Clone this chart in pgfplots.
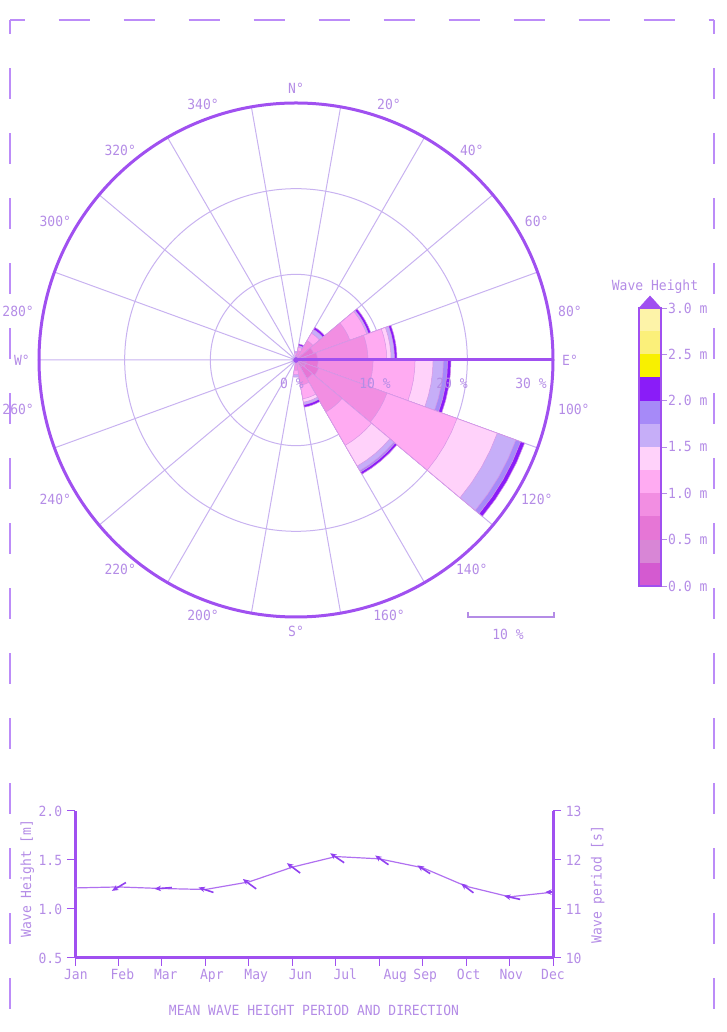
\documentclass[border=0pt]{standalone}
\usepackage{pgfplots}
\pgfplotsset{compat=1.18}
\usepgfplotslibrary{polar}
\usetikzlibrary{arrows.meta}
\usepackage{fontspec}
\setmainfont{DejaVu Sans Mono}[FakeStretch=0.93]
\definecolor{axcol}{HTML}{A050F0}
\definecolor{gridcol}{HTML}{C8B2F0}
\definecolor{textcol}{HTML}{B48CE6}
\definecolor{edgecol}{HTML}{D596E6}
\definecolor{linecol}{HTML}{B070F0}
\definecolor{arrcol}{HTML}{9040F0}
\definecolor{bordcol}{HTML}{BC8CF8}
\definecolor{c0}{HTML}{D45AD0}
\definecolor{c1}{HTML}{D886D6}
\definecolor{c2}{HTML}{E676D6}
\definecolor{c3}{HTML}{F28EE2}
\definecolor{c4}{HTML}{FFABF2}
\definecolor{c5}{HTML}{FFD2FA}
\definecolor{c6}{HTML}{C6AEF8}
\definecolor{c7}{HTML}{A68AF8}
\definecolor{c8}{HTML}{8A1CF8}
\definecolor{c9}{HTML}{F8F000}
\definecolor{c10}{HTML}{FBF07A}
\definecolor{c11}{HTML}{FDF3A8}
% one petal: bearing (deg, clockwise from N), cumulative radius (%), colour
\newcommand{\petal}[3]{%
  \pgfmathsetmacro{\pa}{100-#1}%
  \pgfmathsetmacro{\pb}{95-#1}%
  \pgfmathsetmacro{\pc}{90-#1}%
  \pgfmathsetmacro{\pd}{85-#1}%
  \pgfmathsetmacro{\pe}{80-#1}%
  \edef\temp{\noexpand\addplot[fill=#3, draw=edgecol, line width=0.5pt] coordinates {(0,0) (\pa,#2) (\pb,#2) (\pc,#2) (\pd,#2) (\pe,#2)} -- cycle;}%
  \temp}
\newcommand{\cell}[3]{\addplot[fill=#3, draw=none] coordinates {(0,#1) (1,#1) (1,#2) (0,#2)} -- cycle;}
\begin{document}
\fontsize{14}{16}\selectfont
\begin{tikzpicture}
\path[use as bounding box] (0,0) rectangle (726pt,1032pt);
% dashed frame
\begin{scope}[bordcol, line width=2pt, dash pattern=on 31pt off 34pt, dash phase=16.5pt]
\draw (10pt,1012pt) -- (714pt,1012pt);
\draw (10pt,1012pt) -- (10pt,0pt);
\draw (714pt,1012pt) -- (714pt,0pt);
\end{scope}
% ---------------- wave rose
\begin{polaraxis}[
  name=rose,
  at={(296pt,672pt)}, anchor=center,
  scale only axis, width=514pt, height=514pt,
  xmin=0, xmax=360, ymin=0, ymax=30,
  xtick={0,20,...,340}, ytick={10,20},
  xticklabel={\relax}, yticklabel={\relax},
  major tick length=0pt,
  grid=major,
  major grid style={draw=gridcol, line width=1pt},
  axis line style={draw=axcol, line width=3pt},
  clip=false,
]
% sector 0
\petal{0}{1.0}{c6}\petal{0}{0.8}{c4}\petal{0}{0.5}{c3}
% sector 20
\petal{20}{1.9}{c8}\petal{20}{1.7}{c6}\petal{20}{1.5}{c4}\petal{20}{1.1}{c3}
% sector 40
\petal{40}{4.4}{c8}\petal{40}{4.1}{c6}\petal{40}{3.6}{c4}\petal{40}{2.6}{c3}
% sector 60
\petal{60}{9.3}{c8}\petal{60}{9.0}{c6}\petal{60}{8.8}{c4}\petal{60}{6.7}{c3}\petal{60}{2.2}{c2}
% sector 80
\petal{80}{11.8}{c8}\petal{80}{11.5}{c6}\petal{80}{11.1}{c5}\petal{80}{10.6}{c4}\petal{80}{8.4}{c3}\petal{80}{2.5}{c2}\petal{80}{1.2}{c1}
% sector 100
\petal{100}{18.1}{c8}\petal{100}{17.7}{c7}\petal{100}{17.2}{c6}\petal{100}{16.0}{c5}\petal{100}{13.9}{c4}\petal{100}{9.0}{c3}\petal{100}{2.6}{c2}\petal{100}{1.2}{c1}\petal{100}{0.4}{c0}
% sector 120
\petal{120}{28.4}{c8}\petal{120}{27.9}{c7}\petal{120}{27.3}{c6}\petal{120}{25.0}{c5}\petal{120}{20.0}{c4}\petal{120}{11.3}{c3}\petal{120}{2.8}{c2}\petal{120}{1.2}{c1}\petal{120}{0.4}{c0}
% sector 140
\petal{140}{15.4}{c8}\petal{140}{15.1}{c7}\petal{140}{14.9}{c6}\petal{140}{14.3}{c5}\petal{140}{11.5}{c4}\petal{140}{7.0}{c3}\petal{140}{2.5}{c2}\petal{140}{1.0}{c1}
% sector 160
\petal{160}{5.6}{c8}\petal{160}{5.3}{c6}\petal{160}{5.0}{c5}\petal{160}{4.6}{c4}\petal{160}{3.0}{c3}
% sector 180
\petal{180}{2.0}{c6}\petal{180}{1.7}{c4}\petal{180}{1.2}{c3}
% bold east line and centre
\addplot[axcol, line width=3pt] coordinates {(0,0) (0,30)};
\addplot[only marks, mark=*, mark size=2.5pt, axcol] coordinates {(0,0)};
\end{polaraxis}
% direction labels
\begin{scope}[shift={(296pt,672pt)}]
\foreach \b/\t in {0/N°,20/20°,40/40°,60/60°,80/80°,90/E°,100/100°,120/120°,140/140°,160/160°,180/S°,200/200°,220/220°,240/240°,260/260°,270/W°,280/280°,300/300°,320/320°,340/340°}{
  \pgfmathsetmacro{\th}{90-\b}
  \pgfmathtruncatemacro{\an}{mod(630-\b,360)}
  \node[text=textcol, anchor=\an, inner sep=1pt] at (\th:265pt) {\t};
}
\end{scope}
\node[text=textcol] at (292pt,649pt) {0 \%};
\node[text=textcol] at (375pt,649pt) {10 \%};
\node[text=textcol] at (452pt,649pt) {20 \%};
\node[text=textcol] at (531pt,649pt) {30 \%};
% scale bar
\draw[color=textcol, line width=1.5pt] (468pt,420pt) -- (468pt,415pt) -- (554pt,415pt) -- (554pt,420pt);
\node[text=textcol] at (508pt,398pt) {10 \%};
% ---------------- colour bar
\node[text=textcol] at (655pt,745pt) {Wave Height};
\begin{axis}[
  at={(639pt,446pt)}, anchor=south west,
  scale only axis, width=22pt, height=278pt,
  xmin=0, xmax=1, ymin=0, ymax=3,
  xtick=\empty,
  ytick={0,0.5,1,1.5,2,2.5,3},
  yticklabels={0.0 m,0.5 m,1.0 m,1.5 m,2.0 m,2.5 m,3.0 m},
  ytick pos=right, yticklabel pos=right,
  tick align=outside, major tick length=6pt,
  tick style={draw=textcol, line width=0.8pt},
  yticklabel style={text=textcol, inner sep=1pt},
  axis line style={draw=axcol, line width=1.5pt},
  clip=false, axis on top,
]
\cell{0}{0.25}{c0}\cell{0.25}{0.5}{c1}\cell{0.5}{0.75}{c2}\cell{0.75}{1}{c3}
\cell{1}{1.25}{c4}\cell{1.25}{1.5}{c5}\cell{1.5}{1.75}{c6}\cell{1.75}{2}{c7}
\cell{2}{2.25}{c8}\cell{2.25}{2.5}{c9}\cell{2.5}{2.75}{c10}\cell{2.75}{3}{c11}
\addplot[fill=axcol, draw=axcol] coordinates {(0,3) (1,3) (0.5,3.13)} -- cycle;
\end{axis}
% ---------------- monthly means
\begin{axis}[
  at={(75pt,74pt)}, anchor=south west,
  scale only axis, width=478pt, height=147pt,
  xmin=0, xmax=11, ymin=0.5, ymax=2.0,
  axis x line*=bottom, axis y line*=left,
  axis line style={-, draw=axcol, line width=3pt},
  every outer x axis line/.append style={-},
  every outer y axis line/.append style={-},
  xtick={0,...,11}, xticklabels={},
  extra x ticks={0.02,1.09,2.09,3.15,4.17,5.19,6.22,7.37,8.06,9.06,10.04,11.0},
  extra x tick labels={Jan,Feb,Mar,Apr,May,Jun,Jul,Aug,Sep,Oct,Nov,Dec},
  extra x tick style={major tick length=0pt},
  ytick={0.5,1.0,1.5,2.0}, yticklabels={0.5,1.0,1.5,2.0},
  tick align=outside, major tick length=8pt,
  tick style={draw=axcol, line width=1pt},
  ticklabel style={text=textcol},
  xticklabel style={yshift=-6pt},
  ylabel={Wave Height [m]}, ylabel style={text=textcol, xshift=6pt, yshift=-5pt},
]
\addplot[linecol, line width=1.2pt] coordinates {
(0,1.215) (1,1.225) (2,1.209) (3,1.199) (4,1.276) (5,1.427)
(6,1.535) (7,1.512) (8,1.421) (9,1.232) (10,1.124) (11,1.172)};
\addplot[arrcol, line width=1.6pt, -{Stealth[length=6.5pt,width=5.5pt]},
  quiver={u=\thisrow{u}, v=\thisrow{v}}] table[x=x, y=y] {
x y u v
1.171 1.270 -0.322 -0.085
2.230 1.219 -0.400 -0.014
3.187 1.169 -0.345 0.051
4.169 1.205 -0.306 0.101
5.182 1.367 -0.306 0.101
6.194 1.472 -0.322 0.097
7.214 1.452 -0.306 0.094
8.173 1.361 -0.292 0.084
9.169 1.165 -0.283 0.095
10.244 1.098 -0.368 0.036
11.120 1.172 -0.300 0.000
};
\end{axis}
\begin{axis}[
  at={(75pt,74pt)}, anchor=south west,
  scale only axis, width=478pt, height=147pt,
  xmin=0, xmax=11, ymin=10, ymax=13,
  axis x line=none, axis y line*=right,
  axis line style={-, draw=axcol, line width=3pt},
  every outer y axis line/.append style={-},
  ytick={10,11,12,13}, yticklabels={10,11,12,13},
  tick align=outside, major tick length=8pt,
  tick style={draw=axcol, line width=1pt},
  ticklabel style={text=textcol},
  ylabel={Wave period [s]}, ylabel style={text=textcol},
]
\end{axis}
\node[text=textcol] at (314pt,22pt) {MEAN WAVE HEIGHT PERIOD AND DIRECTION};
\end{tikzpicture}
\end{document}
